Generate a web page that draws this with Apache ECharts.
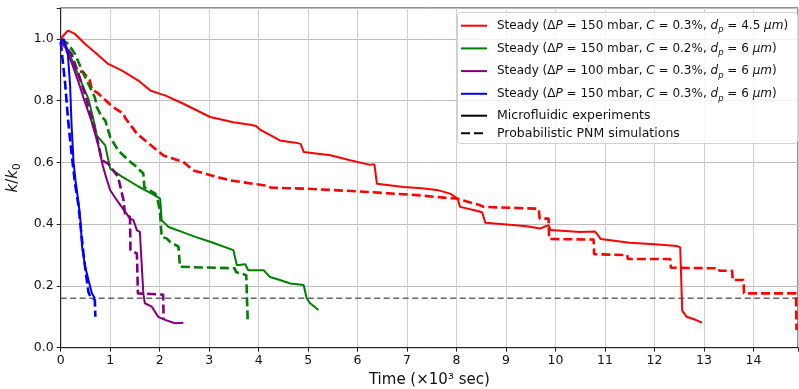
<!DOCTYPE html>
<html><head><meta charset="utf-8">
<script src="https://cdn.jsdelivr.net/npm/echarts@6/dist/echarts.min.js"></script>
<style>html,body{margin:0;padding:0;background:#fff}#c{width:799px;height:389px}</style>
</head><body><div id="c"></div>
<script>
// ---- data (time in 10^3 s, k/k0) ----
const redSolidX = [0, 0.05, 0.15, 0.29, 0.49, 0.69, 0.96, 1.23, 1.57, 1.81, 2.01, 2.11, 2.48, 3.02, 3.49, 3.83, 3.95, 4.03, 4.43, 4.74, 4.85, 4.91, 5.45, 5.85, 6.25, 6.34, 6.39, 6.93, 7.3, 7.6, 7.87, 8.02, 8.07, 8.45, 8.52, 8.58, 8.95, 9.42, 9.69, 9.86, 9.9, 10.5, 10.8, 10.88, 10.91, 11.5, 12.0, 12.46, 12.52, 12.56, 12.65, 12.8, 12.96];
const redSolidY = [1.0, 1.01, 1.027, 1.016, 0.984, 0.957, 0.919, 0.898, 0.865, 0.833, 0.822, 0.817, 0.790, 0.747, 0.730, 0.722, 0.718, 0.706, 0.671, 0.664, 0.660, 0.634, 0.623, 0.607, 0.592, 0.594, 0.531, 0.520, 0.516, 0.511, 0.499, 0.483, 0.456, 0.442, 0.438, 0.405, 0.400, 0.393, 0.386, 0.397, 0.381, 0.375, 0.376, 0.360, 0.352, 0.340, 0.335, 0.329, 0.325, 0.12, 0.10, 0.092, 0.081];
const redPnmX = [0, 0.32, 0.46, 0.59, 0.63, 0.73, 1.06, 1.27, 1.30, 1.54, 1.91, 2.07, 2.48, 2.68, 3.15, 3.42, 3.96, 4.2, 4.25, 4.97, 6.25, 7.2, 7.74, 8.0, 8.14, 8.48, 8.55, 9.66, 9.68, 9.86, 9.87, 10.77, 10.78, 11.45, 11.46, 12.32, 12.33, 13.30, 13.31, 13.57, 13.58, 13.80, 13.81, 14.86, 14.87];
const redPnmY = [1.0, 0.897, 0.892, 0.865, 0.835, 0.827, 0.779, 0.758, 0.745, 0.693, 0.644, 0.623, 0.601, 0.574, 0.553, 0.542, 0.529, 0.524, 0.518, 0.515, 0.504, 0.494, 0.486, 0.483, 0.477, 0.461, 0.456, 0.450, 0.418, 0.418, 0.352, 0.350, 0.303, 0.300, 0.287, 0.287, 0.259, 0.257, 0.249, 0.249, 0.219, 0.219, 0.176, 0.176, 0.057];

const greenSolidX = [0, 0.15, 0.36, 0.56, 0.69, 0.73, 0.9, 1.0, 1.23, 1.57, 1.84, 2.01, 2.04, 2.18, 2.45, 2.72, 3.02, 3.49, 3.53, 3.56, 3.73, 3.79, 4.10, 4.23, 4.43, 4.64, 4.91, 4.97, 5.04, 5.21];
const greenSolidY = [1.0, 0.962, 0.881, 0.806, 0.72, 0.687, 0.655, 0.58, 0.555, 0.522, 0.499, 0.483, 0.413, 0.391, 0.375, 0.359, 0.343, 0.316, 0.31, 0.267, 0.270, 0.251, 0.251, 0.229, 0.219, 0.208, 0.203, 0.160, 0.144, 0.122];
const greenPnmX = [0, 0.15, 0.29, 0.46, 0.59, 0.69, 0.73, 0.83, 0.9, 0.96, 1.0, 1.16, 1.37, 1.5, 1.67, 1.69, 1.91, 1.97, 2.01, 2.04, 2.14, 2.21, 2.38, 2.41, 3.52, 3.54, 3.75, 3.77, 3.78];
const greenPnmY = [1.0, 0.984, 0.951, 0.887, 0.844, 0.811, 0.779, 0.747, 0.736, 0.704, 0.682, 0.639, 0.607, 0.590, 0.564, 0.520, 0.499, 0.472, 0.434, 0.359, 0.354, 0.343, 0.327, 0.262, 0.257, 0.245, 0.235, 0.235, 0.085];

const purpleSolidX = [0, 0.09, 0.22, 0.36, 0.49, 0.63, 0.76, 0.85, 0.93, 1.0, 1.16, 1.33, 1.40, 1.47, 1.54, 1.6, 1.67, 1.70, 1.84, 1.97, 2.11, 2.31, 2.48];
const purpleSolidY = [1.0, 0.973, 0.924, 0.86, 0.795, 0.73, 0.655, 0.59, 0.545, 0.51, 0.472, 0.434, 0.418, 0.413, 0.380, 0.375, 0.176, 0.144, 0.133, 0.100, 0.090, 0.079, 0.081];
const purplePnmX = [0, 0.05, 0.22, 0.36, 0.53, 0.63, 0.73, 0.83, 0.96, 1.16, 1.27, 1.30, 1.40, 1.41, 1.54, 1.56, 2.07, 2.08];
const purplePnmY = [1.0, 0.984, 0.951, 0.887, 0.80, 0.736, 0.682, 0.607, 0.596, 0.553, 0.477, 0.434, 0.423, 0.316, 0.305, 0.176, 0.172, 0.09];

const blueSolidX = [0, 0.06, 0.1, 0.14, 0.19, 0.22, 0.26, 0.3, 0.36, 0.40, 0.43, 0.49, 0.56, 0.63, 0.69];
const blueSolidY = [0.99, 1.0, 1.005, 0.96, 0.85, 0.72, 0.6, 0.54, 0.47, 0.41, 0.33, 0.265, 0.22, 0.176, 0.16];
const bluePnmX = [0, 0.02, 0.09, 0.15, 0.22, 0.29, 0.36, 0.42, 0.46, 0.51, 0.56, 0.6, 0.69, 0.70];
const bluePnmY = [0.99, 0.96, 0.855, 0.736, 0.628, 0.531, 0.46, 0.365, 0.305, 0.24, 0.18, 0.165, 0.155, 0.10];

const thresholdY = 0.16;
const xRange = [0, 14.9];
const yRange = [0, 1.1];
const xTickStep = 1;
const yTickStep = 0.2;

const legendLabels = {
  red: 'Steady (Δ{i|P} = 150 mbar, {i|C} = 0.3%, {i|d}{s|p} = 4.5 {i|μm})',
  green: 'Steady (Δ{i|P} = 150 mbar, {i|C} = 0.2%, {i|d}{s|p} = 6 {i|μm})',
  purple: 'Steady (Δ{i|P} = 100 mbar, {i|C} = 0.3%, {i|d}{s|p} = 6 {i|μm})',
  blue: 'Steady (Δ{i|P} = 150 mbar, {i|C} = 0.3%, {i|d}{s|p} = 6 {i|μm})',
  exp: 'Microfluidic experiments',
  pnm: 'Probabilistic PNM simulations'
};

function pairs(xs, ys) { return xs.map((x, i) => [x, ys[i]]); }

const FONT = 'DejaVu Sans';
const colors = { red: '#ff0000', green: '#008000', purple: '#800080', blue: '#0000ff' };

function solid(name, xs, ys) {
  return { name, type: 'line', data: pairs(xs, ys), symbol: 'none', showSymbol: false,
    color: colors[name], lineStyle: { width: 2, color: colors[name] }, z: 3 };
}
function dashed(key, xs, ys) {
  return { name: key + '_pnm', type: 'line', data: pairs(xs, ys), symbol: 'none', showSymbol: false,
    color: colors[key], lineStyle: { width: 2.6, type: [9, 4], color: colors[key] }, z: 3 };
}

const LFS = 12;
const richLegend = {
  i: { fontStyle: 'italic', fontSize: LFS, fontFamily: FONT, lineHeight: 18, color: '#111' },
  s: { fontStyle: 'italic', fontSize: 8.5, fontFamily: FONT, lineHeight: 10, verticalAlign: 'bottom', color: '#111' }
};
const hiddenSymbol = { color: 'rgba(0,0,0,0)', borderColor: 'rgba(0,0,0,0)', borderWidth: 0, opacity: 0 };

const chart = echarts.init(document.getElementById('c'));
chart.setOption({
  animation: false,
  backgroundColor: '#fff',
  grid: { left: 60.7, right: 1, top: 8, bottom: 41.3, show: true, borderColor: '#222', borderWidth: 1, outerBoundsMode: 'none', containLabel: false },
  xAxis: {
    type: 'value', min: xRange[0], max: xRange[1], interval: xTickStep,
    name: 'Time (×10³ sec)', nameLocation: 'middle', nameGap: 23,
    nameTextStyle: { fontSize: 15, fontFamily: FONT, color: '#111' },
    axisLine: { show: true, lineStyle: { color: '#222', width: 1 } },
    axisTick: { show: true, inside: false, length: 4, lineStyle: { color: '#222' } },
    axisLabel: { fontSize: 12.5, fontFamily: FONT, color: '#111', margin: 7,
      formatter: v => (Math.abs(v - Math.round(v)) < 1e-6 && v <= 14) ? String(Math.round(v)) : '' },
    splitLine: { show: true, lineStyle: { color: '#cfcfcf', width: 1 } }
  },
  yAxis: {
    type: 'value', min: yRange[0], max: yRange[1], interval: yTickStep,
    name: '{i|k}/{i|k}{s|0}', nameLocation: 'middle', nameGap: 32, nameRotate: 90,
    nameTextStyle: { fontSize: 15, fontFamily: FONT, color: '#111', lineHeight: 20,
      rich: { i: { fontStyle: 'italic', fontSize: 15, fontFamily: FONT, lineHeight: 20, color: '#111' },
              s: { fontSize: 10.5, fontFamily: FONT, lineHeight: 12, verticalAlign: 'bottom', color: '#111' } } },
    axisLine: { show: true, lineStyle: { color: '#222', width: 1 } },
    axisTick: { show: true, inside: false, length: 4, lineStyle: { color: '#222' } },
    axisLabel: { fontSize: 12.5, fontFamily: FONT, color: '#111', margin: 7,
      formatter: v => v > 1.05 ? '' : v.toFixed(1) },
    splitLine: { show: true, lineStyle: { color: '#bdbdbd', width: 1 } }
  },
  graphic: [{
    type: 'rect', left: 457, top: 12, z: 10,
    shape: { width: 340, height: 131, r: 3 },
    style: { fill: 'rgba(255,255,255,0.8)', stroke: '#d0d0d0', lineWidth: 1 }
  }],
  legend: [{
    data: ['red', 'green', 'purple', 'blue'], orient: 'vertical', left: 460, top: 16.7,
    itemWidth: 26, itemHeight: 14, itemGap: 4.7, padding: 0, z: 20, selectedMode: false,
    itemStyle: hiddenSymbol,
    formatter: n => legendLabels[n],
    textStyle: { fontSize: LFS, fontFamily: FONT, color: '#111', lineHeight: 18, padding: [0, 0, 0, 5], rich: richLegend }
  }, {
    data: ['exp', 'pnm'], orient: 'vertical', left: 460, top: 107.7,
    itemWidth: 26, itemHeight: 14, itemGap: 1.6, padding: 0, z: 20, selectedMode: false,
    itemStyle: hiddenSymbol,
    formatter: n => legendLabels[n],
    textStyle: { fontSize: 12.5, fontFamily: FONT, color: '#111', lineHeight: 16, padding: [0, 0, 0, 5] }
  }],
  series: [
    solid('red', redSolidX, redSolidY), dashed('red', redPnmX, redPnmY),
    solid('green', greenSolidX, greenSolidY), dashed('green', greenPnmX, greenPnmY),
    solid('purple', purpleSolidX, purpleSolidY), dashed('purple', purplePnmX, purplePnmY),
    solid('blue', blueSolidX, blueSolidY), dashed('blue', bluePnmX, bluePnmY),
    { name: 'threshold', type: 'line', data: [[xRange[0], thresholdY], [xRange[1], thresholdY]], symbol: 'none',
      lineStyle: { color: '#666', width: 1.4, type: [6, 3.5] }, z: 2, silent: true },
    { name: 'exp', type: 'line', data: [], symbol: 'none', color: '#000', lineStyle: { width: 2, color: '#000' } },
    { name: 'pnm', type: 'line', data: [], symbol: 'none', color: '#000', lineStyle: { width: 2.6, type: [9, 4], color: '#000' } }
  ]
});
</script></body></html>
